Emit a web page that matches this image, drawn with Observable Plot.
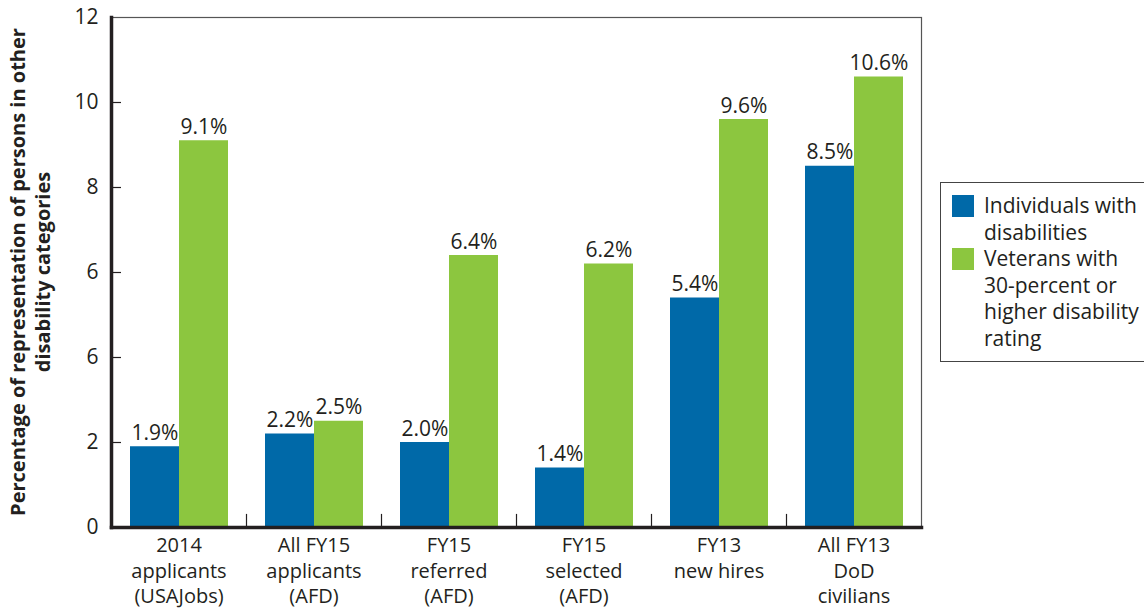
<!DOCTYPE html>
<html>
<head>
<meta charset="utf-8">
<script src="https://cdn.jsdelivr.net/npm/d3@7"></script>
<script src="https://cdn.jsdelivr.net/npm/@observablehq/plot@0.6"></script>
<style>
  html, body { margin: 0; padding: 0; background: #fff; }
  #wrap { position: relative; width: 1144px; height: 609px; overflow: hidden; font-family: "Open Sans", sans-serif; color: #231f20; }
  #ytitle { position: absolute; left: 30px; top: 272px; transform: translate(-50%, -50%) rotate(-90deg); white-space: nowrap; text-align: center; font-weight: bold; font-size: 20px; line-height: 25px; }
  #legend { position: absolute; left: 940px; top: 182px; width: 230px; height: 180px; border: 1.5px solid #444; box-sizing: border-box; font-size: 21px; line-height: 26.5px; white-space: nowrap; }
  .item { position: absolute; left: 43px; }
  .sw { position: absolute; left: -32px; top: 3px; width: 22px; height: 22px; }
</style>
</head>
<body>
<div id="wrap">
  <div id="chart"></div>
  <div id="ytitle">Percentage of representation of persons in other<br>disability categories</div>
  <div id="legend"></div>
</div>
<script>
const categories = ["2014\napplicants\n(USAJobs)", "All FY15\napplicants\n(AFD)", "FY15\nreferred\n(AFD)", "FY15\nselected\n(AFD)", "FY13\nnew hires", "All FY13\nDoD\ncivilians"];
const series = ["Individuals with disabilities", "Veterans with 30-percent or higher disability rating"];
const legendLabels = ["Individuals with<br>disabilities", "Veterans with<br>30-percent or<br>higher disability<br>rating"];
const disabilities = [1.9, 2.2, 2.0, 1.4, 5.4, 8.5];
const veterans = [9.1, 2.5, 6.4, 6.2, 9.6, 10.6];
const yTicks = [0, 2, 4, 6, 8, 10, 12];
const yTickLabels = ["0", "2", "6", "6", "8", "10", "12"];
const colors = ["#0069a8", "#8cc63f"];

const data = [];
categories.forEach((c, i) => {
  data.push({cat: c, series: series[0], value: disabilities[i]});
  data.push({cat: c, series: series[1], value: veterans[i]});
});

const chart = Plot.plot({
  width: 1144, height: 609,
  marginLeft: 110, marginRight: 222, marginTop: 17, marginBottom: 82,
  style: {fontFamily: "Open Sans, sans-serif", fontSize: "21px", color: "#231f20", background: "white"},
  fx: {domain: categories, paddingInner: 0, paddingOuter: 0, label: null, axis: null},
  x: {domain: series, paddingInner: 0, paddingOuter: 0.36, axis: null},
  y: {domain: [0, 12], axis: null},
  color: {domain: series, range: colors},
  marks: [
    Plot.barY(data, {fx: "cat", x: "series", y: "value", fill: "series"}),
    Plot.text(data, {fx: "cat", x: "series", y: "value", text: d => d.value.toFixed(1) + "%", dy: -7, lineAnchor: "bottom", fill: "#231f20", fontSize: 21}),
    Plot.axisY({ticks: yTicks, tickFormat: d => yTickLabels[yTicks.indexOf(d)], tickSize: 0, tickPadding: 13, fontSize: 21, label: null}),
    Plot.axisY({ticks: yTicks.slice(1, -1), text: null, tickSize: -10, strokeWidth: 1.2, label: null}),
    Plot.axisFx({anchor: "bottom", tickSize: 0, tickPadding: 7, lineHeight: 1.26, fontSize: 20, label: null}),
    Plot.frame({anchor: "left", insetTop: 497, strokeWidth: 1.2}),
    Plot.frame({facet: "super", stroke: "#555", strokeWidth: 1.2}),
    Plot.frame({facet: "super", anchor: "left", strokeWidth: 3.5}),
    Plot.frame({facet: "super", anchor: "bottom", strokeWidth: 3.5})
  ]
});
document.getElementById("chart").appendChild(chart);

const legend = document.getElementById("legend");
const tops = [9, 62];
series.forEach((s, i) => {
  const item = document.createElement("div");
  item.className = "item";
  item.style.top = tops[i] + "px";
  item.innerHTML = `<span class="sw" style="background:${colors[i]}"></span>${legendLabels[i]}`;
  legend.appendChild(item);
});
</script>
</body>
</html>
